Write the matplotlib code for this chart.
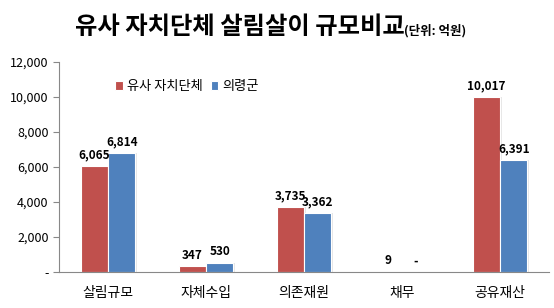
import numpy as np
import matplotlib.pyplot as plt
from matplotlib.ticker import FuncFormatter

plt.rcParams['font.family'] = ['Noto Sans CJK KR', 'DejaVu Sans']

categories = ['살림규모', '자체수입', '의존재원', '채무', '공유재산']
similar = [6065, 347, 3735, 9, 10017]
uiryeong = [6814, 530, 3362, 0, 6391]
similar_labels = ['6,065', '347', '3,735', '9', '10,017']
uiryeong_labels = ['6,814', '530', '3,362', '-', '6,391']

red = '#C0504D'
blue = '#4F81BD'

fig = plt.figure(figsize=(5.54, 3.08), dpi=100)
ax = fig.add_axes([59 / 554, 1 - 272 / 308, 490 / 554, 210 / 308])

x = np.arange(len(categories))
w = 0.28
# 막대 뒤 그림자
for off, vals in ((-w / 2, similar), (w / 2, uiryeong)):
    ax.bar(x + off + 0.02, vals, w, color='#e6e6e6', zorder=1)
ax.bar(x - w / 2, similar, w, color=red, edgecolor='white', linewidth=0.8,
       label='유사 자치단체', zorder=2)
ax.bar(x + w / 2, uiryeong, w, color=blue, edgecolor='white', linewidth=0.8,
       label='의령군', zorder=2)

for i in range(len(categories)):
    ax.text(x[i] - w / 2, similar[i] + 250, similar_labels[i], ha='center',
            va='bottom', fontsize=8.5, fontweight='bold')
    ax.text(x[i] + w / 2, uiryeong[i] + 250, uiryeong_labels[i], ha='center',
            va='bottom', fontsize=8.5, fontweight='bold')

ax.set_xlim(-0.5, len(categories) - 0.5)
ax.set_ylim(0, 12000)
ax.set_yticks(np.arange(0, 12001, 2000))
ax.yaxis.set_major_formatter(FuncFormatter(lambda v, p: '-' if v == 0 else f'{int(v):,}'))
ax.set_xticks(x)
ax.set_xticklabels(categories, fontsize=10)
ax.tick_params(axis='x', length=0, pad=10)
ax.tick_params(axis='y', labelsize=9, length=4, color='#888888', direction='out')
for s in ('top', 'right'):
    ax.spines[s].set_visible(False)
for s in ('left', 'bottom'):
    ax.spines[s].set_color('#888888')

ax.legend(loc='upper left', bbox_to_anchor=(0.09, 0.97), ncol=2, frameon=False,
          fontsize=9.5, handlelength=0.6, handleheight=0.6, handletextpad=0.3,
          columnspacing=0.6)

fig.text(0.73, 0.888, '유사 자치단체 살림살이 규모비교', ha='right', va='baseline',
         fontsize=17.5, fontweight='bold')
fig.text(0.73, 0.888, '(단위: 억원)', ha='left', va='baseline',
         fontsize=9, fontweight='bold')

fig.savefig('out.png', dpi=100)
